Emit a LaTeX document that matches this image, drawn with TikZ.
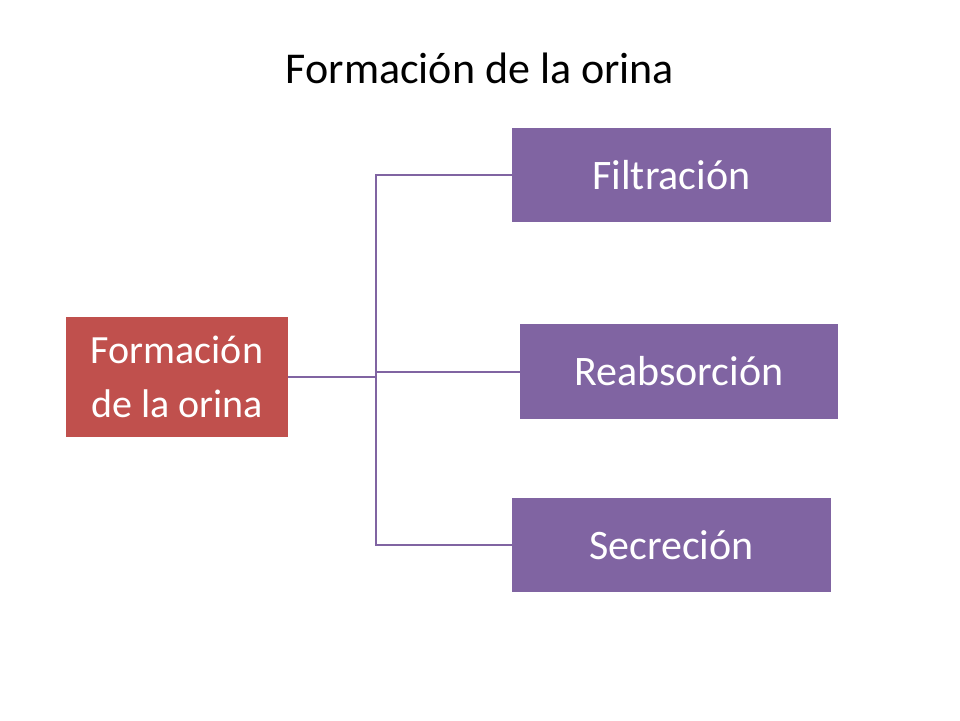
\documentclass[tikz,border=0pt]{standalone}
\usepackage{fontspec}
\setmainfont{Carlito}
\definecolor{boxred}{RGB}{192,80,77}
\definecolor{boxpurple}{RGB}{128,100,162}
\begin{document}
\begin{tikzpicture}[x=0.5pt, y=-0.5pt,
        stage/.style={rectangle, fill=boxpurple, text=white, font=\fontsize{21}{25}\selectfont, inner sep=0pt},
        root/.style={rectangle, fill=boxred, text=white, font=\fontsize{20}{27}\selectfont, align=center, inner sep=0pt},
        link/.style={draw=boxpurple, line width=1pt}
    ]
        \useasboundingbox (0,0) rectangle (960,720);
        % Title
        \node[font=\fontsize{22}{26}\selectfont] (title) at (480,68) {Formación de la orina};
        
        % Root box
        \node[root, minimum width=111pt, minimum height=60pt] (orina) at (177,377) {Formación\\de la orina};
        
        % Stage boxes
        \node[stage, minimum width=159.5pt, minimum height=47pt] (filtra) at (671.5,175) {Filtración};
        \node[stage, minimum width=159pt, minimum height=47.5pt] (reabs) at (679,371.5) {Reabsorción};
        \node[stage, minimum width=159.5pt, minimum height=47pt] (secre) at (671.5,545) {Secreción};
        
        % Bracket connectors
        \coordinate (hub) at (376,377);
        \draw[link] (orina.east) -- (hub);
        \draw[link] (filtra.west) -| (hub) |- (secre.west);
        \draw[link] (hub) |- (reabs.west);
    \end{tikzpicture}
\end{document}
